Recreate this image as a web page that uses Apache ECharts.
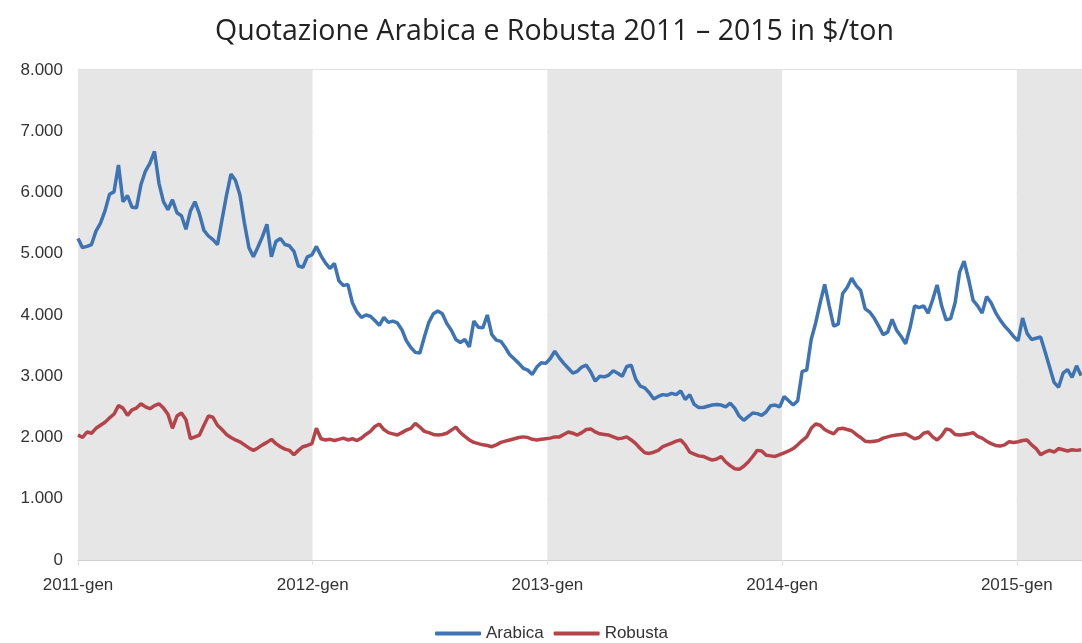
<!DOCTYPE html>
<html>
<head>
<meta charset="utf-8">
<script src="https://cdn.jsdelivr.net/npm/echarts@6/dist/echarts.min.js"></script>
<style>
html,body{margin:0;padding:0;background:#fff;}
#chart{width:1082px;height:643px;}
</style>
</head>
<body>
<div id="chart"></div>
<script>
// Weekly quotations, first week of Jan 2011 onward ($/ton)
const startYear = 2011;
const weekInYears = 7 / 365.25;
const arabica = [
5250,5100,5120,5150,5370,5500,5700,5970,6010,6450,5850,5950,5760,5750,6130,6350,6480,6670,6150,5850,
5720,5880,5670,5620,5400,5700,5850,5650,5380,5290,5230,5150,5550,5950,6300,6200,5960,5500,5100,4950,
5110,5280,5480,4950,5200,5250,5150,5130,5040,4800,4780,4950,4980,5120,4970,4850,4760,4840,4560,4480,
4500,4200,4050,3960,4000,3980,3910,3830,3960,3880,3900,3870,3760,3580,3470,3390,3380,3640,3880,4020,
4065,4020,3860,3750,3600,3550,3600,3480,3900,3800,3790,4000,3680,3590,3570,3470,3350,3280,3210,3130,
3100,3030,3150,3220,3210,3290,3410,3300,3210,3130,3050,3080,3150,3180,3070,2920,3000,2990,3020,3090,
3050,3000,3160,3180,2950,2840,2810,2730,2630,2670,2700,2690,2720,2700,2760,2620,2700,2540,2490,2490,
2510,2530,2540,2530,2500,2560,2480,2350,2280,2340,2400,2390,2360,2420,2520,2530,2500,2670,2600,2530,
2600,3080,3100,3600,3870,4200,4500,4150,3820,3850,4350,4450,4600,4480,4400,4100,4050,3950,3820,3680,
3720,3930,3750,3650,3530,3800,4150,4120,4150,4030,4250,4490,4150,3920,3940,4200,4700,4880,4580,4240,
4150,4030,4300,4200,4040,3920,3820,3740,3650,3580,3950,3700,3600,3620,3640,3400,3150,2900,2820,3050,
3110,2980,3170,3010
];
const robusta = [
2040,2000,2090,2070,2150,2200,2250,2320,2380,2520,2480,2360,2450,2480,2550,2500,2470,2520,2550,2480,
2380,2150,2350,2400,2290,1980,2010,2040,2200,2350,2330,2200,2130,2050,2000,1960,1930,1880,1830,1790,
1830,1880,1920,1970,1900,1850,1810,1790,1720,1790,1850,1870,1900,2150,1980,1960,1970,1950,1970,1990,
1960,1980,1950,1990,2050,2100,2180,2220,2130,2080,2060,2040,2080,2120,2150,2230,2170,2100,2080,2050,
2040,2050,2070,2120,2170,2080,2020,1960,1920,1900,1880,1870,1850,1880,1920,1940,1960,1980,2000,2010,
2000,1970,1960,1970,1980,1990,2010,2010,2050,2090,2070,2040,2080,2130,2140,2090,2060,2050,2040,2010,
1980,1990,2010,1960,1900,1820,1750,1740,1760,1790,1850,1880,1910,1940,1960,1880,1760,1730,1700,1690,
1660,1630,1650,1690,1600,1540,1490,1480,1530,1600,1690,1790,1780,1710,1700,1690,1720,1750,1780,1820,
1880,1950,2010,2150,2220,2200,2130,2090,2060,2140,2150,2130,2110,2050,2000,1940,1930,1940,1950,1990,
2010,2030,2040,2050,2060,2020,1980,2000,2070,2090,2010,1960,2030,2140,2120,2050,2040,2050,2060,2080,
2020,1990,1940,1900,1870,1860,1880,1930,1920,1930,1950,1960,1880,1820,1720,1760,1790,1760,1820,1800,
1780,1800,1790,1800
];
const yearTicks = [2011, 2012, 2013, 2014, 2015];
const monthLabel = 'gen';
const seriesNames = ['Arabica', 'Robusta'];

const toPairs = arr => arr.map((v, i) => [startYear + i * weekInYears, v]);
const xMax = startYear + (arabica.length - 1) * weekInYears + 0.004;

const chart = echarts.init(document.getElementById('chart'), null, {renderer: 'canvas'});
const font = 'Liberation Sans, Arial, sans-serif';
chart.setOption({
  animation: false,
  backgroundColor: '#ffffff',
  title: {
    text: 'Quotazione Arabica e Robusta 2011 – 2015 in $/ton',
    left: 210,
    top: 12,
    textStyle: {fontFamily: 'Open Sans, sans-serif', fontSize: 28.5, fontWeight: 'normal', color: '#222'}
  },
  legend: {
    data: seriesNames,
    top: 620,
    left: 430,
    icon: 'roundRect',
    itemWidth: 46,
    itemHeight: 4,
    itemGap: 10,
    textStyle: {fontFamily: font, fontSize: 17, color: '#333'}
  },
  grid: {left: 78, right: 0, top: 70, bottom: 83, containLabel: false},
  xAxis: {
    type: 'value',
    min: yearTicks[0],
    max: xMax,
    interval: 1,
    axisLine: {show: true, lineStyle: {color: '#d0d0d0', width: 1}},
    axisTick: {show: true, length: 5, lineStyle: {color: '#e0e0e0'}},
    axisLabel: {
      showMaxLabel: false,
      margin: 17,
      fontFamily: font, fontSize: 17, color: '#333',
      formatter: v => (yearTicks.indexOf(Math.round(v)) >= 0 && Math.abs(v - Math.round(v)) < 1e-6) ? Math.round(v) + '-' + monthLabel : ''
    },
    splitLine: {show: false},
    splitArea: {show: true, areaStyle: {color: ['#e6e6e6', '#ffffff']}}
  },
  yAxis: {
    type: 'value',
    min: 0,
    max: 8000,
    interval: 1000,
    axisLine: {show: false},
    axisTick: {show: false},
    axisLabel: {
      margin: 15,
      fontFamily: font, fontSize: 17, color: '#333',
      formatter: v => v === 0 ? '0' : (v / 1000) + '.000'
    },
    splitLine: {show: true, lineStyle: {color: '#d6d6d6', width: 1.5}}
  },
  series: [
    {
      name: seriesNames[0], type: 'line', data: toPairs(arabica),
      symbol: 'none', lineStyle: {color: '#3e74b3', width: 3.5}, itemStyle: {color: '#3e74b3'}
    },
    {
      name: seriesNames[1], type: 'line', data: toPairs(robusta),
      symbol: 'none', lineStyle: {color: '#b5434a', width: 3.5}, itemStyle: {color: '#b5434a'}
    }
  ]
});
</script>
</body>
</html>
